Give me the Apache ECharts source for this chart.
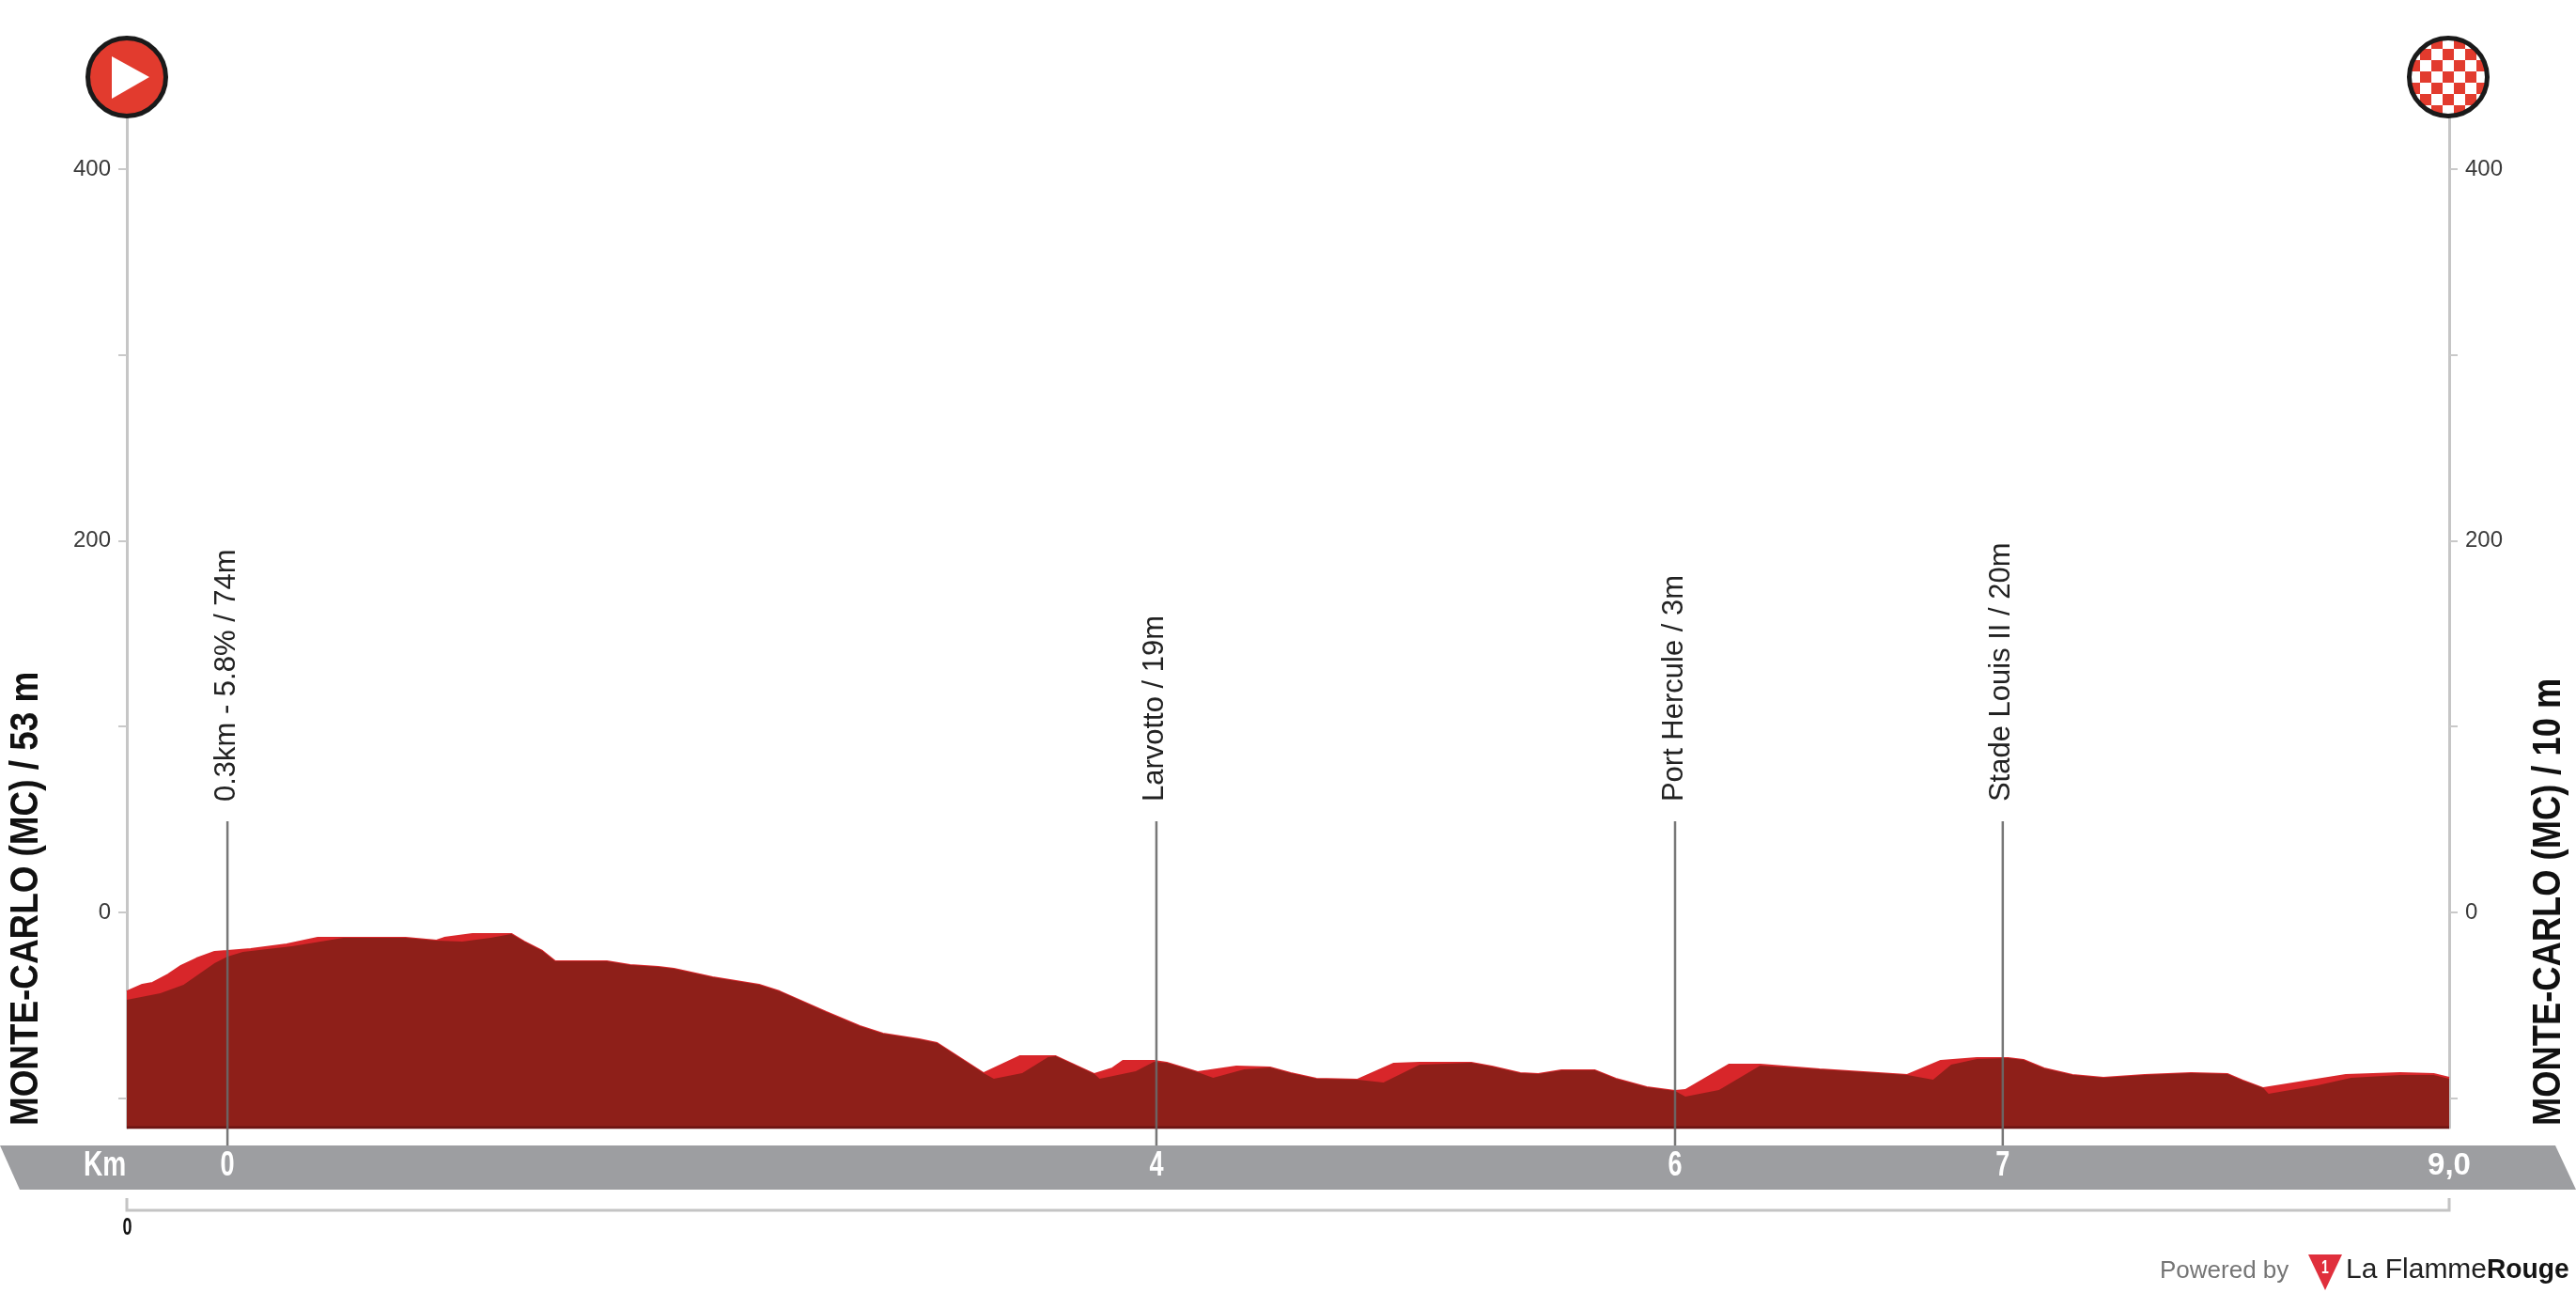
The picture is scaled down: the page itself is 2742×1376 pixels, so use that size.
<!DOCTYPE html>
<html>
<head>
<meta charset="utf-8">
<style>html,body{margin:0;padding:0;background:#fff}#c{width:2742px;height:1376px}</style>
<script src="https://cdn.jsdelivr.net/npm/echarts@6/dist/echarts.min.js"></script>
</head>
<body>
<div id="c"></div>
<script>
const topKm=[0,.06,.10,.16,.21,.27,.34,.39,.48,.62,.74,.84,1.08,1.20,1.23,1.34,1.49,1.54,1.61,1.66,1.86,1.95,2.06,2.12,2.27,2.45,2.53,2.71,2.84,2.93,3.07,3.14,3.32,3.46,3.60,3.75,3.82,3.86,3.98,4.03,4.15,4.30,4.43,4.51,4.61,4.77,4.91,5.01,5.21,5.29,5.40,5.47,5.56,5.69,5.77,5.89,6.00,6.04,6.21,6.33,6.56,6.90,7.03,7.17,7.29,7.35,7.43,7.54,7.66,7.82,8.00,8.14,8.20,8.28,8.60,8.81,8.94,9.0];
const topElev=[-42.5,-38.9,-37.9,-33.4,-28.8,-24.8,-21.2,-20.7,-19.7,-17.2,-13.7,-13.7,-13.7,-15.2,-13.7,-11.6,-11.6,-15.7,-20.7,-26.3,-26.3,-28.3,-29.3,-30.3,-34.9,-38.9,-42.5,-53.6,-61.2,-65.2,-68.3,-70.3,-86.5,-77.4,-77.4,-87.0,-83.9,-79.9,-79.9,-80.9,-86.0,-82.9,-83.4,-86.5,-89.5,-90.0,-81.4,-80.9,-80.9,-82.9,-86.5,-87.0,-85.0,-85.0,-89.5,-94.1,-96.1,-95.6,-81.9,-81.9,-84.5,-87.5,-79.9,-78.4,-78.4,-79.4,-83.9,-87.5,-89.0,-87.5,-86.5,-87.0,-90.5,-94.6,-87.5,-86.5,-87.0,-89.0];
const lowKm=[0,.13,.22,.34,.39,.45,.64,.84,1.08,1.20,1.30,1.41,1.49,1.54,1.61,1.66,1.86,1.95,2.06,2.12,2.27,2.45,2.53,2.71,2.84,2.93,3.07,3.14,3.32,3.36,3.47,3.57,3.60,3.75,3.77,3.91,3.98,4.03,4.15,4.21,4.33,4.43,4.51,4.61,4.77,4.87,5.01,5.21,5.29,5.40,5.47,5.56,5.69,5.77,5.89,6.00,6.04,6.17,6.33,6.56,6.90,7.00,7.07,7.17,7.29,7.35,7.43,7.54,7.66,7.82,8.00,8.14,8.20,8.28,8.30,8.49,8.62,8.81,8.94,9.0];
const lowElev=[-47.0,-43.5,-38.9,-27.3,-23.8,-21.2,-18.2,-13.7,-13.7,-15.2,-15.7,-13.7,-11.6,-15.7,-20.7,-26.3,-26.3,-28.3,-29.3,-30.3,-34.9,-38.9,-42.5,-53.6,-61.2,-65.2,-68.3,-70.3,-86.5,-89.5,-86.5,-77.9,-77.4,-87.0,-89.5,-85.5,-80.4,-80.9,-86.0,-89.0,-84.4,-83.4,-86.5,-89.5,-90.0,-91.5,-81.9,-80.9,-82.9,-86.5,-87.0,-85.0,-85.0,-89.5,-94.1,-96.1,-99.1,-95.6,-82.4,-84.5,-87.5,-90.0,-81.9,-78.9,-78.4,-79.4,-83.9,-87.5,-89.0,-87.5,-86.5,-87.0,-90.5,-94.6,-97.6,-93.0,-89.0,-87.5,-87.5,-89.5];
const poiKm=[0.39,3.99,6.0,7.27];
const poiLabels=['0.3km - 5.8% / 74m','Larvotto / 19m','Port Hercule / 3m','Stade Louis II / 20m'];
const kmTickValues=[0.39,3.99,6.0,7.27,9];
const kmTickLabels=['0','4','6','7','9,0'];
const yTickValues=[-100,0,100,200,300,400];
const yLabelValues=[0,200,400];
const baseElev=-115.8, markerTopElev=49, bandTopElev=-125.4, axisTopElev=427.8;
const startTitle='MONTE-CARLO (MC) / 53 m', endTitle='MONTE-CARLO (MC) / 10 m';

const SANS='"Liberation Sans",Arial,sans-serif';

const tile=document.createElement('canvas');tile.width=24;tile.height=24;
(function(){const g=tile.getContext('2d');g.fillStyle='#ffffff';g.fillRect(0,0,24,24);g.fillStyle='#E23B2E';
  for(let i=-1;i<3;i++)for(let j=-1;j<3;j++){if((i+j)%2===0)g.fillRect(-6+12*i,-6+12*j,12,12);}})();

const yAxisBase=(pos)=>({type:'value',position:pos,min:baseElev,max:axisTopElev,
  axisLine:{show:true,onZero:false,lineStyle:{color:'#c6c6c6',width:3}},
  axisTick:{show:true,length:9,customValues:yTickValues,lineStyle:{color:'#c9c9c9',width:2}},
  axisLabel:{show:true,customValues:yLabelValues,margin:17,fontFamily:SANS,fontSize:24,color:'#3a3a3a',showMinLabel:true,showMaxLabel:true},
  splitLine:{show:false}});

const option={
  animation:false,backgroundColor:'#ffffff',
  grid:{left:135,right:135,top:125,bottom:176,containLabel:false},
  xAxis:{type:'value',min:0,max:9,axisLine:{show:false},axisTick:{show:false},splitLine:{show:false},axisLabel:{show:false}},
  yAxis:[yAxisBase('left'),yAxisBase('right')],
  series:[
    {type:'line',name:'Surface',symbol:'none',z:3,data:topKm.map((k,i)=>[k,topElev[i]]),
     lineStyle:{color:'#D8262A',width:2},areaStyle:{color:'#D8262A',origin:baseElev,opacity:1}},
    {type:'line',name:'Profile',symbol:'none',z:4,data:lowKm.map((k,i)=>[k,lowElev[i]]),
     lineStyle:{width:0},areaStyle:{color:'#8E1F19',origin:baseElev,opacity:1}},
    {type:'line',name:'Base',symbol:'none',z:5,data:[[0,baseElev],[9,baseElev]],lineStyle:{color:'#6d1513',width:3}},
    {type:'custom',name:'Markers',z:6,clip:false,encode:{x:0,y:1},data:poiKm.map(k=>[k,markerTopElev]),
     renderItem(params,api){
       const x=api.value(0),t=api.coord([x,markerTopElev]),b=api.coord([x,bandTopElev]);
       return {type:'group',children:[
         {type:'line',shape:{x1:t[0],y1:t[1],x2:b[0],y2:b[1]},style:{stroke:'rgba(105,105,105,0.9)',lineWidth:2.5}},
         {type:'text',x:t[0]-1,y:t[1]-21,rotation:Math.PI/2,style:{text:poiLabels[params.dataIndex],font:'31px '+SANS,fill:'#222222',align:'left',verticalAlign:'middle'}}
       ]};
     }},
    {type:'custom',name:'KmLabels',z:7,clip:false,encode:{x:0,y:1},data:kmTickValues.map(k=>[k,baseElev]),
     renderItem(params,api){
       const p=api.coord([api.value(0),baseElev]);
       const label=kmTickLabels[params.dataIndex], plain=label.indexOf(',')>=0;
       return {type:'text',x:p[0],y:p[1]+41,scaleX:plain?1:0.73,style:{text:label,font:'bold '+(plain?33:37)+'px '+SANS,fill:'#ffffff',align:'center',verticalAlign:'middle'}};
     }}
  ],
  graphic:[
    {type:'polygon',z:-1,shape:{points:[[0,1219],[2720,1219],[2742,1266],[21,1266]]},style:{fill:'#9D9EA1'}},
    {type:'text',z:10,x:111.5,y:1241,scaleX:0.78,style:{text:'Km',font:'bold 36px '+SANS,fill:'#fff',align:'center',verticalAlign:'middle'}},
    {type:'polyline',z:1,shape:{points:[[135,1275],[135,1288],[2607,1288],[2607,1275]]},style:{stroke:'#c4c4c4',lineWidth:3,fill:null}},
    {type:'text',z:10,x:135.5,y:1307,scaleX:0.72,style:{text:'0',font:'bold 25px '+SANS,fill:'#111',align:'center',verticalAlign:'middle'}},
    {type:'text',z:10,x:28,y:1198,rotation:Math.PI/2,scaleX:0.857,style:{text:startTitle,font:'bold 43px '+SANS,fill:'#111',align:'left',verticalAlign:'middle'}},
    {type:'text',z:10,x:2713,y:1198,rotation:Math.PI/2,scaleX:0.845,style:{text:endTitle,font:'bold 43px '+SANS,fill:'#111',align:'left',verticalAlign:'middle'}},
    {type:'circle',z:10,x:135,y:82,shape:{cx:0,cy:0,r:41.5},style:{fill:'#E23B2E',stroke:'#1a1a1a',lineWidth:5}},
    {type:'polygon',z:11,shape:{points:[[119,60],[159,82],[119,105]]},style:{fill:'#fff'}},
    {type:'circle',z:10,x:2606,y:82,shape:{cx:0,cy:0,r:41.5},style:{fill:{image:tile,repeat:'repeat'},stroke:'#1a1a1a',lineWidth:5}},
    {type:'text',z:10,x:2299,y:1353,style:{text:'Powered by',font:'26px '+SANS,fill:'#757575',align:'left',verticalAlign:'middle'}},
    {type:'polygon',z:10,shape:{points:[[2457,1335],[2493,1335],[2475,1373]]},style:{fill:'#E02F3C'}},
    {type:'text',z:11,x:2475,y:1349,scaleX:0.7,style:{text:'1',font:'bold 20px '+SANS,fill:'#fff',align:'center',verticalAlign:'middle'}},
    {type:'text',z:10,x:2497,y:1352,style:{text:'La Flamme',font:'30px '+SANS,fill:'#222',align:'left',verticalAlign:'middle'}},
    {type:'text',z:10,x:2647,y:1352,scaleX:0.94,style:{text:'Rouge',font:'bold 30px '+SANS,fill:'#151515',align:'left',verticalAlign:'middle'}}
  ]
};
const chart=echarts.init(document.getElementById('c'),null,{renderer:'canvas',width:2742,height:1376});
chart.setOption(option);
</script>
</body>
</html>
